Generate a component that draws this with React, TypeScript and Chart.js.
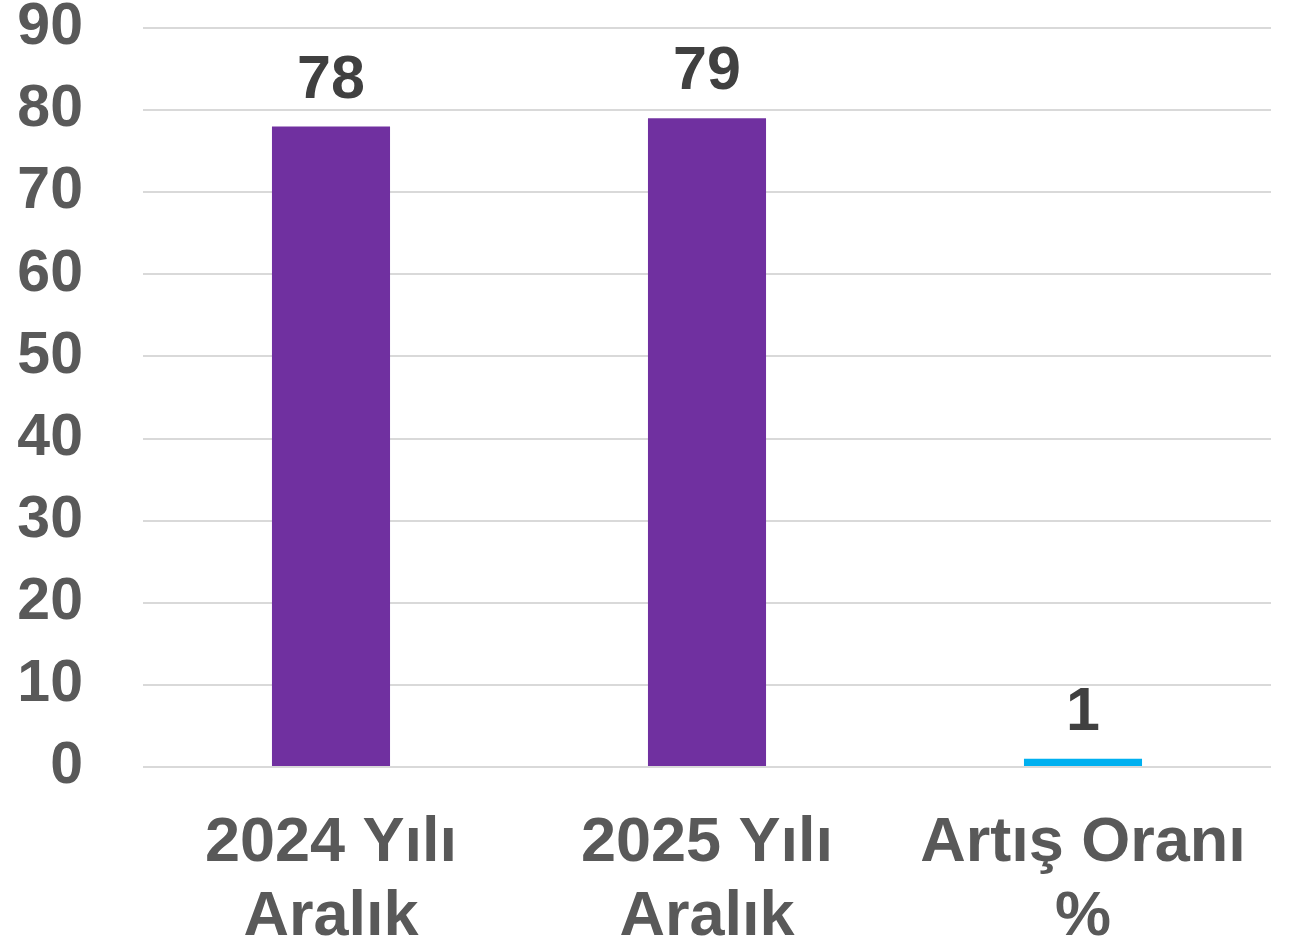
import React, { useEffect, useRef } from "react";
import { Chart, registerables } from "chart.js";

Chart.register(...registerables);

const categories: string[][] = [["2024 Yılı", "Aralık"], ["2025 Yılı", "Aralık"], ["Artış Oranı", "%"]];
const values: number[] = [78, 79, 1];
const barColors: string[] = ["#7030A0", "#7030A0", "#00B0F0"];
const yTicks: number[] = [0, 10, 20, 30, 40, 50, 60, 70, 80, 90];

const FONT = "'Liberation Sans', Arial, sans-serif";

const dataLabelPlugin = {
  id: "dataLabels",
  afterDatasetsDraw(chart: any) {
    const ctx = chart.ctx;
    const meta = chart.getDatasetMeta(0);
    ctx.save();
    ctx.font = `bold 61px ${FONT}`;
    ctx.fillStyle = "#404040";
    ctx.textAlign = "center";
    ctx.textBaseline = "alphabetic";
    meta.data.forEach((bar: any, i: number) => {
      ctx.fillText(String(values[i]), bar.x, bar.y - 29);
    });
    ctx.restore();
  },
};

export default function App() {
  const ref = useRef<HTMLCanvasElement | null>(null);
  useEffect(() => {
    if (!ref.current) return;
    const chart = new Chart(ref.current, {
      type: "bar",
      data: {
        labels: categories,
        datasets: [
          {
            data: values,
            backgroundColor: barColors,
            barPercentage: 0.628,
            categoryPercentage: 0.5,
          },
        ],
      },
      options: {
        animation: false,
        responsive: false,
        maintainAspectRatio: false,
        layout: { padding: { top: 28, right: 23, left: 0, bottom: 0 } },
        plugins: { legend: { display: false }, tooltip: { enabled: false } },
        scales: {
          x: {
            grid: { display: false, drawTicks: false },
            border: { display: false },
            ticks: {
              color: "#595959",
              font: { family: FONT, size: 63, weight: "bold", lineHeight: 1.17 },
              padding: 40,
              maxRotation: 0,
              autoSkip: false,
            },
            afterFit: (s: any) => {
              s.height = 178;
              s.paddingLeft = 0;
              s.paddingRight = 0;
            },
          },
          y: {
            min: 0,
            max: 90,
            afterBuildTicks: (s: any) => {
              s.ticks = yTicks.map((v) => ({ value: v }));
            },
            grid: { color: "#d9d9d9", lineWidth: 2, drawTicks: false },
            border: { display: false },
            ticks: {
              color: "#595959",
              font: { family: FONT, size: 59, weight: "bold" },
              padding: 60,
            },
            afterFit: (s: any) => {
              s.width = 143;
              s.paddingTop = 0;
              s.paddingBottom = 0;
            },
          },
        },
      },
      plugins: [dataLabelPlugin],
    });
    return () => chart.destroy();
  }, []);
  return (
    <div style={{ position: "fixed", left: 0, top: 0, width: 1294, height: 945, background: "#fff" }}>
      <canvas ref={ref} width={1294} height={945} style={{ width: 1294, height: 945 }} />
    </div>
  );
}
